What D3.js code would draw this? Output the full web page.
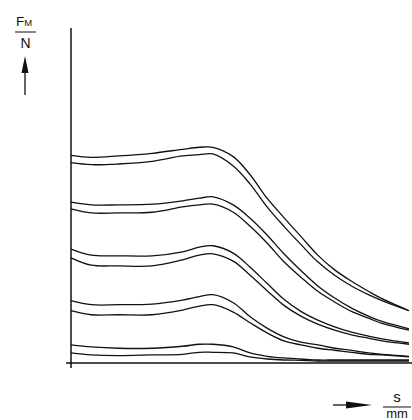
<!DOCTYPE html>
<html>
<head>
<meta charset="utf-8">
<script src="https://cdn.jsdelivr.net/npm/d3@7"></script>
<style>
  html, body { margin: 0; padding: 0; background: #fff; }
  svg { display: block; font-family: "Liberation Sans", Arial, sans-serif; }
</style>
</head>
<body>
<svg id="chart" width="412" height="420"></svg>
<script>
// travel s (mm) sampled at these points, force F_M (N) read per curve
const S = [0, 3, 7, 12, 16.5, 19, 21, 24, 26.5, 29, 31.5, 34, 36.5, 39, 41.5, 44, 46, 50];

const p1Top = [31.0, 30.7, 30.9, 31.3, 31.9, 32.2, 32.2, 30.8, 28.1, 24.6, 21.7, 18.9, 16.1, 13.9, 12.2, 10.7, 9.6, 7.8];
const p1Bot = [29.9, 29.6, 29.7, 30.1, 30.9, 31.1, 31.2, 29.4, 26.7, 23.3, 20.4, 17.7, 15.1, 13.1, 11.5, 10.2, 9.3, 7.8];
const p2Top = [24.0, 23.6, 23.6, 23.7, 24.2, 24.6, 24.8, 23.6, 21.6, 19.1, 16.3, 13.8, 11.5, 9.7, 8.2, 7.0, 6.2, 5.1];
const p2Bot = [23.0, 22.4, 22.4, 22.5, 23.3, 23.6, 23.7, 22.5, 20.4, 17.9, 15.1, 12.8, 10.7, 9.1, 7.7, 6.7, 5.9, 4.9];
const p3Top = [17.0, 16.1, 16.0, 16.0, 16.6, 17.3, 17.5, 16.4, 14.3, 11.9, 9.5, 7.7, 6.4, 5.4, 4.6, 4.0, 3.6, 3.0];
const p3Bot = [15.7, 14.6, 14.5, 14.5, 15.4, 16.1, 16.3, 15.2, 13.1, 10.8, 8.6, 7.0, 5.8, 4.9, 4.2, 3.7, 3.3, 2.8];
const p4Top = [9.3, 8.7, 8.7, 8.8, 9.4, 9.9, 10.2, 9.0, 6.9, 5.2, 3.9, 3.1, 2.7, 2.2, 1.9, 1.5, 1.3, 1.0];
const p4Bot = [7.8, 7.2, 7.2, 7.2, 7.9, 8.5, 8.7, 7.6, 6.0, 4.5, 3.3, 2.7, 2.2, 1.9, 1.6, 1.3, 1.2, 0.9];
const p5Top = [2.7, 2.4, 2.2, 2.2, 2.5, 2.8, 2.8, 2.4, 1.5, 1.0, 0.75, 0.6, 0.45, 0.45, 0.45, 0.45, 0.45, 0.45];
const p5Bot = [1.5, 1.2, 1.1, 1.2, 1.3, 1.6, 1.6, 1.5, 0.9, 0.6, 0.45, 0.4, 0.3, 0.3, 0.3, 0.3, 0.3, 0.3];

const curves = [p1Top, p1Bot, p2Top, p2Bot, p3Top, p3Bot, p4Top, p4Bot, p5Top, p5Bot];

const svg = d3.select("#chart");
const x = d3.scaleLinear().domain([0, 50]).range([71, 409]);
const y = d3.scaleLinear().domain([0, 50]).range([363, 28]);
const INK = "#111";

// axes — no ticks, just the two lines with a small overhang at the origin
svg.append("line")
  .attr("x1", x(0)).attr("x2", x(0))
  .attr("y1", y(50)).attr("y2", y(0) + 5)
  .attr("stroke", INK).attr("stroke-width", 1.5);
svg.append("line")
  .attr("x1", x(0) - 5).attr("x2", 412)
  .attr("y1", y(0)).attr("y2", y(0))
  .attr("stroke", INK).attr("stroke-width", 1.5);

const line = d3.line()
  .x((d, i) => x(S[i]))
  .y(d => y(d))
  .curve(d3.curveCatmullRom.alpha(0.5));

svg.append("g").selectAll("path")
  .data(curves).enter().append("path")
  .attr("d", d => line(d))
  .attr("fill", "none")
  .attr("stroke", INK)
  .attr("stroke-width", 1.3);

// y label: F_M / N with arrow
const yl = svg.append("g").attr("fill", INK);
const ft = yl.append("text").attr("x", 16).attr("y", 26);
ft.append("tspan").attr("font-size", 13.5).text("F");
ft.append("tspan").attr("font-size", 9.5).text("M");
yl.append("line").attr("x1", 15).attr("x2", 36).attr("y1", 32).attr("y2", 32)
  .attr("stroke", INK).attr("stroke-width", 1);
yl.append("text").attr("x", 25.5).attr("y", 47.5).attr("text-anchor", "middle")
  .attr("font-size", 14).text("N");
yl.append("line").attr("x1", 25).attr("x2", 25).attr("y1", 70).attr("y2", 95)
  .attr("stroke", INK).attr("stroke-width", 1.3);
yl.append("path").attr("d", "M25,56 L28.5,73 L21.5,73 Z");

// x label: s / mm with arrow (nudged up so "mm" stays inside the frame)
const xl = svg.append("g").attr("fill", INK);
xl.append("line").attr("x1", 333).attr("x2", 350).attr("y1", 405).attr("y2", 405)
  .attr("stroke", INK).attr("stroke-width", 1.3);
xl.append("path").attr("d", "M372,405 L346,401.5 L346,408.5 Z");
xl.append("text").attr("x", 397).attr("y", 402).attr("text-anchor", "middle")
  .attr("font-size", 15).text("s");
xl.append("line").attr("x1", 383).attr("x2", 411).attr("y1", 407).attr("y2", 407)
  .attr("stroke", INK).attr("stroke-width", 1);
xl.append("text").attr("x", 397).attr("y", 418).attr("text-anchor", "middle")
  .attr("font-size", 13).text("mm");
</script>
</body>
</html>
